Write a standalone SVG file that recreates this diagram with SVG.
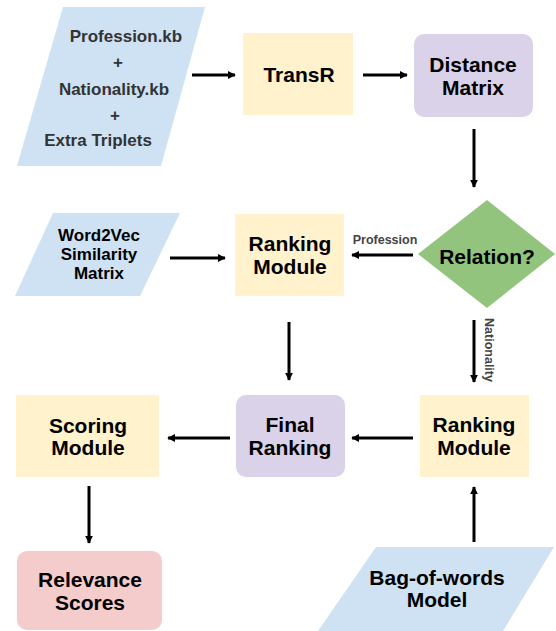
<svg xmlns="http://www.w3.org/2000/svg" width="556" height="631" viewBox="0 0 556 631">
<defs>
<marker id="ah" viewBox="0 0 10 10" refX="9" refY="5" markerWidth="8" markerHeight="8" markerUnits="userSpaceOnUse" orient="auto">
<path d="M0,0 L10,5 L0,10 z" fill="#000"/>
</marker>
<style>
.t{font-family:"Liberation Sans",Arial,sans-serif;font-weight:bold;text-anchor:middle;fill:#000}
.big{font-size:21px}
.mid{font-size:17px}
.dk{fill:#333}
.lbl{font-size:12.5px;fill:#444}
.blue{fill:#cfe2f3}
.yel{fill:#fff2cc}
.lav{fill:#d9d2e9}
.grn{fill:#93c47d}
.pnk{fill:#f4cccc}
.c{stroke:#000;stroke-width:3;fill:none;marker-end:url(#ah)}
</style>
</defs>
<rect width="556" height="631" fill="#fff"/>
<g id="connectors">
<line class="c" x1="192" y1="75" x2="235" y2="75"/>
<line class="c" x1="363" y1="75" x2="407" y2="75"/>
<line class="c" x1="474" y1="129" x2="474" y2="187"/>
<line class="c" x1="170" y1="258" x2="225" y2="258"/>
<line class="c" x1="413" y1="255" x2="352" y2="255"/>
<line class="c" x1="474" y1="320" x2="474" y2="382"/>
<line class="c" x1="289" y1="322" x2="289" y2="380"/>
<line class="c" x1="413" y1="438" x2="352" y2="438"/>
<line class="c" x1="230" y1="438" x2="168" y2="438"/>
<line class="c" x1="89" y1="486" x2="89" y2="543"/>
<line class="c" x1="474" y1="542" x2="474" y2="487"/>
<text class="t lbl" x="385" y="244">Profession</text>
<text class="t lbl" transform="translate(489,350) rotate(90)" x="0" y="4.5">Nationality</text>
</g>
<g id="inputs">
<polygon class="blue" points="63,7 205,7 161,166 17,166"/>
<text class="t mid dk" x="126" y="42">Profession.kb</text>
<text class="t mid dk" x="118" y="68">+</text>
<text class="t mid dk" x="114" y="95">Nationality.kb</text>
<text class="t mid dk" x="115" y="121">+</text>
<text class="t mid dk" x="98" y="146">Extra Triplets</text>
</g>
<g id="transr">
<rect class="yel" x="243" y="33" width="110" height="82"/>
<text class="t big" x="299" y="82">TransR</text>
</g>
<g id="distance">
<rect class="lav" x="414" y="34" width="119" height="83" rx="10"/>
<text class="t big" x="473" y="72">Distance</text>
<text class="t big" x="473" y="95">Matrix</text>
</g>
<g id="word2vec">
<polygon class="blue" points="53,213 180,213 140,296 15,296"/>
<text class="t mid" x="99" y="241">Word2Vec</text>
<text class="t mid" x="99" y="260">Similarity</text>
<text class="t mid" x="99" y="279">Matrix</text>
</g>
<g id="ranking1">
<rect class="yel" x="235" y="214" width="109" height="82"/>
<text class="t big" x="290" y="251">Ranking</text>
<text class="t big" x="290" y="274">Module</text>
</g>
<g id="relation">
<polygon class="grn" points="487,200 555,254 487,308 418,254"/>
<text class="t big" x="487" y="264">Relation?</text>
</g>
<g id="scoring">
<rect class="yel" x="16" y="395" width="143" height="82"/>
<text class="t big" x="88" y="433">Scoring</text>
<text class="t big" x="88" y="455">Module</text>
</g>
<g id="final">
<rect class="lav" x="236" y="395" width="109" height="82" rx="10"/>
<text class="t big" x="290" y="432">Final</text>
<text class="t big" x="290" y="455">Ranking</text>
</g>
<g id="ranking2">
<rect class="yel" x="420" y="395" width="109" height="82"/>
<text class="t big" x="474" y="432">Ranking</text>
<text class="t big" x="474" y="455">Module</text>
</g>
<g id="relevance">
<rect class="pnk" x="17" y="551" width="145" height="79" rx="10"/>
<text class="t big" x="90" y="587">Relevance</text>
<text class="t big" x="90" y="610">Scores</text>
</g>
<g id="bow">
<polygon class="blue" points="376,547 554,547 503,631 318,631"/>
<text class="t big" x="437" y="585">Bag-of-words</text>
<text class="t big" x="437" y="607">Model</text>
</g>
</svg>
